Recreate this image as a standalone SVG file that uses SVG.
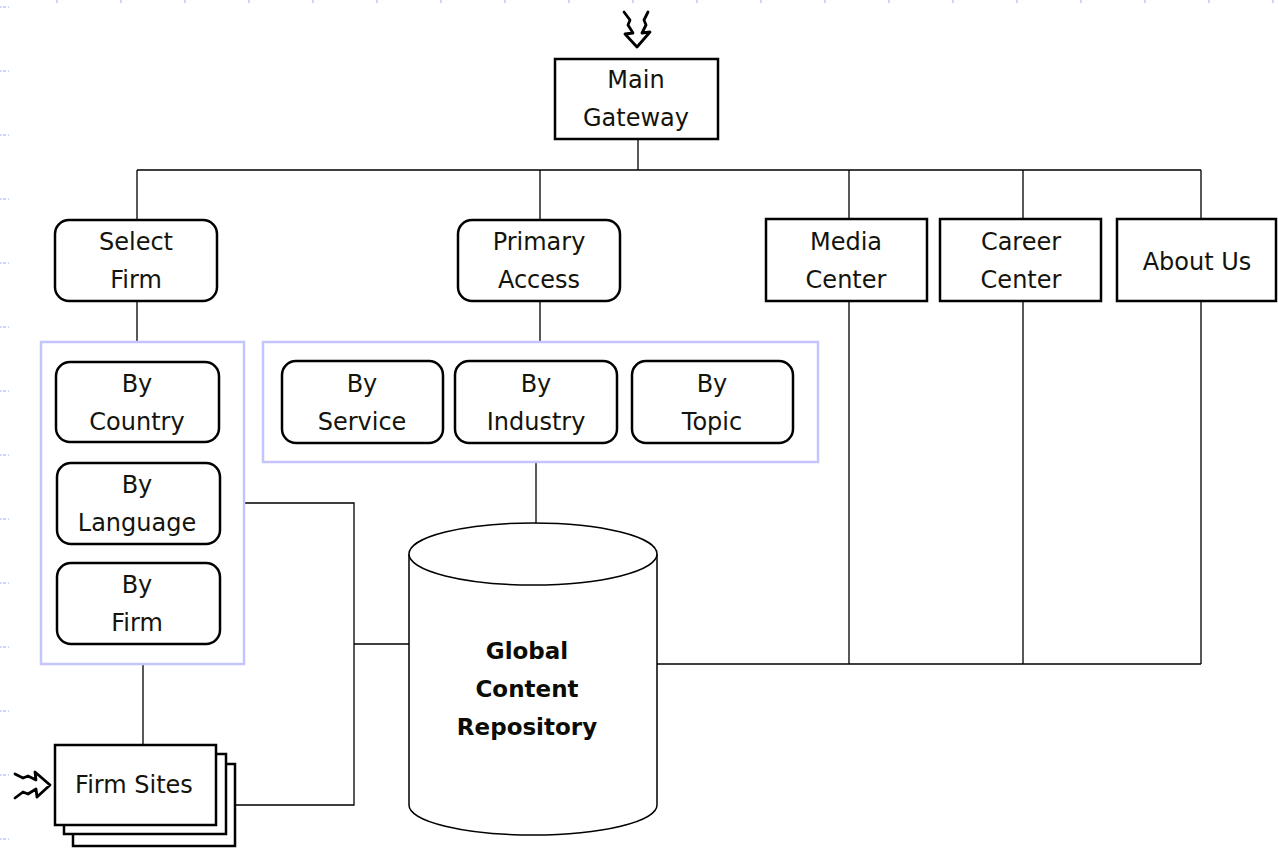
<svg xmlns="http://www.w3.org/2000/svg" width="1278" height="850" viewBox="0 0 1278 850">
  <style>
    .box { fill: #ffffff; stroke: #000000; stroke-width: 2.5; }
    .rbox { fill: #ffffff; stroke: #000000; stroke-width: 2.5; }
    .group { fill: none; stroke: #c4c4ff; stroke-width: 2.5; }
    .wire { fill: none; stroke: #000000; stroke-width: 1.3; }
    .lbl { font-family: "DejaVu Sans", Verdana, sans-serif; font-size: 24px; fill: #14140c; text-anchor: middle; }
    .bold { font-family: "DejaVu Sans", Verdana, sans-serif; font-size: 23px; font-weight: bold; fill: #0c0c06; text-anchor: middle; }
    .tick { stroke: #cdd5ff; stroke-width: 2; }
    .hand { fill: #ffffff; stroke: #000000; stroke-width: 2.8; stroke-linejoin: round; stroke-linecap: round; }
  </style>
  <defs>
    <!-- hand-drawn entry arrow pointing down, tip at origin -->
    <path id="entry" class="hand" d="M-13,-36 L-7,-28 L-9,-23 L-4,-15 L-12,-14 L0,-1 L13,-16 L5,-15 L9,-23 L7,-28 L11,-36"/>
  </defs>

  <!-- ruler ticks along the top and left edges -->
  <g id="ruler">
    <path class="tick" d="M57,0v3M121,0v3M185,0v3M249,0v3M313,0v3M377,0v3M441,0v3M505,0v3M569,0v3M633,0v3M697,0v3M761,0v3M825,0v3M889,0v3M953,0v3M1017,0v3M1081,0v3M1145,0v3M1209,0v3M1273,0v3"/>
    <path class="tick" stroke-dasharray="1.5 1.5 3 2 1.5" d="M0,7h9M0,71h9M0,135h9M0,199h9M0,263h9M0,327h9M0,391h9M0,455h9M0,519h9M0,583h9M0,647h9M0,711h9M0,775h9M0,839h9"/>
  </g>

  <!-- connectors -->
  <g id="connectors">
    <path class="wire" d="M638,139V170M137,170H1201M137,170V220M540,170V220M849,170V219M1023,170V219M1201,170V219"/>
    <path class="wire" d="M137,301V342M540,301V342"/>
    <path class="wire" d="M536,462V523"/>
    <path class="wire" d="M657,664H1201M849,301V664M1023,301V664M1201,301V664"/>
    <path class="wire" d="M244,503H354V805H235M354,644H409"/>
    <path class="wire" d="M143,665V745"/>
  </g>

  <!-- entry arrows -->
  <g id="arrow-top">
    <use href="#entry" transform="translate(637,48)"/>
  </g>
  <g id="arrow-left">
    <use href="#entry" transform="translate(51,785) rotate(-90)"/>
  </g>

  <g id="main-gateway">
    <rect class="box" x="555" y="59" width="163" height="80"/>
    <text class="lbl" x="636" y="88">Main</text>
    <text class="lbl" x="636" y="126">Gateway</text>
  </g>

  <g id="select-firm">
    <rect class="rbox" x="55" y="220" width="162" height="81" rx="14"/>
    <text class="lbl" x="136" y="250">Select</text>
    <text class="lbl" x="136" y="288">Firm</text>
  </g>

  <g id="primary-access">
    <rect class="rbox" x="458" y="220" width="162" height="81" rx="14"/>
    <text class="lbl" x="539" y="250">Primary</text>
    <text class="lbl" x="539" y="288">Access</text>
  </g>

  <g id="media-center">
    <rect class="box" x="766" y="219" width="161" height="82"/>
    <text class="lbl" x="846" y="250">Media</text>
    <text class="lbl" x="846" y="288">Center</text>
  </g>

  <g id="career-center">
    <rect class="box" x="940" y="219" width="161" height="82"/>
    <text class="lbl" x="1021" y="250">Career</text>
    <text class="lbl" x="1021" y="288">Center</text>
  </g>

  <g id="about-us">
    <rect class="box" x="1117" y="219" width="159" height="82"/>
    <text class="lbl" x="1197" y="270">About Us</text>
  </g>

  <g id="firm-filters">
    <rect class="group" x="41" y="342" width="203" height="322"/>
    <g id="by-country">
      <rect class="rbox" x="56" y="362" width="163" height="80" rx="14"/>
      <text class="lbl" x="137" y="392">By</text>
      <text class="lbl" x="137" y="430">Country</text>
    </g>
    <g id="by-language">
      <rect class="rbox" x="57" y="463" width="163" height="81" rx="14"/>
      <text class="lbl" x="137" y="493">By</text>
      <text class="lbl" x="137" y="531">Language</text>
    </g>
    <g id="by-firm">
      <rect class="rbox" x="57" y="563" width="163" height="81" rx="14"/>
      <text class="lbl" x="137" y="593">By</text>
      <text class="lbl" x="137" y="631">Firm</text>
    </g>
  </g>

  <g id="access-filters">
    <rect class="group" x="263" y="342" width="555" height="120"/>
    <g id="by-service">
      <rect class="rbox" x="282" y="361" width="161" height="82" rx="14"/>
      <text class="lbl" x="362" y="392">By</text>
      <text class="lbl" x="362" y="430">Service</text>
    </g>
    <g id="by-industry">
      <rect class="rbox" x="455" y="361" width="162" height="82" rx="14"/>
      <text class="lbl" x="536" y="392">By</text>
      <text class="lbl" x="536" y="430">Industry</text>
    </g>
    <g id="by-topic">
      <rect class="rbox" x="632" y="361" width="161" height="82" rx="14"/>
      <text class="lbl" x="712" y="392">By</text>
      <text class="lbl" x="712" y="430">Topic</text>
    </g>
  </g>

  <g id="repository">
    <path fill="#ffffff" stroke="#000000" stroke-width="1.5" d="M409,554V805A124,30 0 0 0 657,805V554"/>
    <ellipse cx="533" cy="554" rx="124" ry="31" fill="#ffffff" stroke="#000000" stroke-width="1.5"/>
    <text class="bold" x="527" y="659">Global</text>
    <text class="bold" x="527" y="697">Content</text>
    <text class="bold" x="527" y="735">Repository</text>
  </g>

  <g id="firm-sites">
    <rect class="box" x="73" y="764" width="162" height="82"/>
    <rect class="box" x="64" y="754" width="162" height="80"/>
    <rect class="box" x="55" y="745" width="161" height="80"/>
    <text class="lbl" x="134" y="793">Firm Sites</text>
  </g>
</svg>
